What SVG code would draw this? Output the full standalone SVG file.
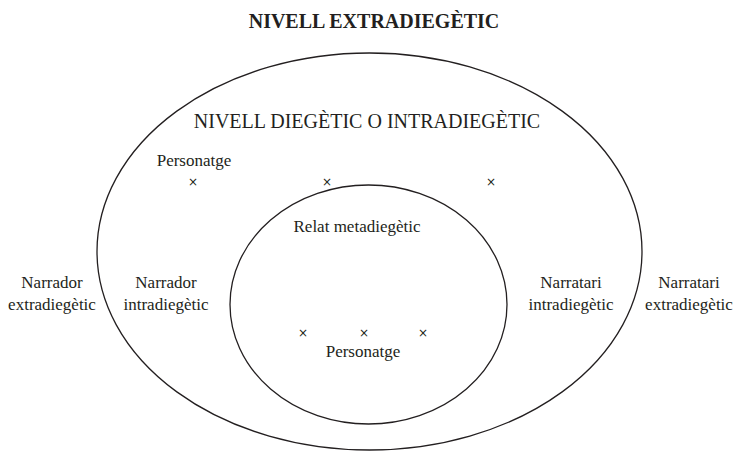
<svg xmlns="http://www.w3.org/2000/svg" width="739" height="453" viewBox="0 0 739 453">
<style>
text{font-family:"Liberation Serif","DejaVu Serif",serif;fill:#231f20;text-anchor:middle}
.t{font-size:17px}
.h{font-size:20px}
.b{font-size:20px;font-weight:bold}
.x{font-family:"DejaVu Sans",sans-serif;font-size:12px}
.e{fill:none;stroke:#231f20;stroke-width:1.3}
</style>
<rect width="739" height="453" fill="#fff"/>
<g id="title"><text class="b" x="374" y="28">NIVELL EXTRADIEGÈTIC</text></g>
<g id="diegetic">
<ellipse class="e" cx="369.5" cy="251.5" rx="272.5" ry="198.5"/>
<text class="h" x="367" y="128">NIVELL DIEGÈTIC O INTRADIEGÈTIC</text>
<text class="t" x="194" y="166">Personatge</text>
<text class="x" x="193" y="186">×</text>
<text class="x" x="327" y="186">×</text>
<text class="x" x="491" y="186">×</text>
</g>
<g id="meta">
<ellipse class="e" cx="368.5" cy="304.5" rx="138.5" ry="119.5"/>
<text class="t" x="357" y="232">Relat metadiegètic</text>
<text class="x" x="303" y="337">×</text>
<text class="x" x="364" y="337">×</text>
<text class="x" x="423" y="337">×</text>
<text class="t" x="363" y="357">Personatge</text>
</g>
<g id="narrador-extra"><text class="t" x="52" y="288">Narrador</text><text class="t" x="52" y="310">extradiegètic</text></g>
<g id="narrador-intra"><text class="t" x="166" y="288">Narrador</text><text class="t" x="166" y="310">intradiegètic</text></g>
<g id="narratari-intra"><text class="t" x="571" y="288">Narratari</text><text class="t" x="571" y="310">intradiegètic</text></g>
<g id="narratari-extra"><text class="t" x="689" y="288">Narratari</text><text class="t" x="689" y="310">extradiegètic</text></g>
<g id="connectors"></g>
</svg>
